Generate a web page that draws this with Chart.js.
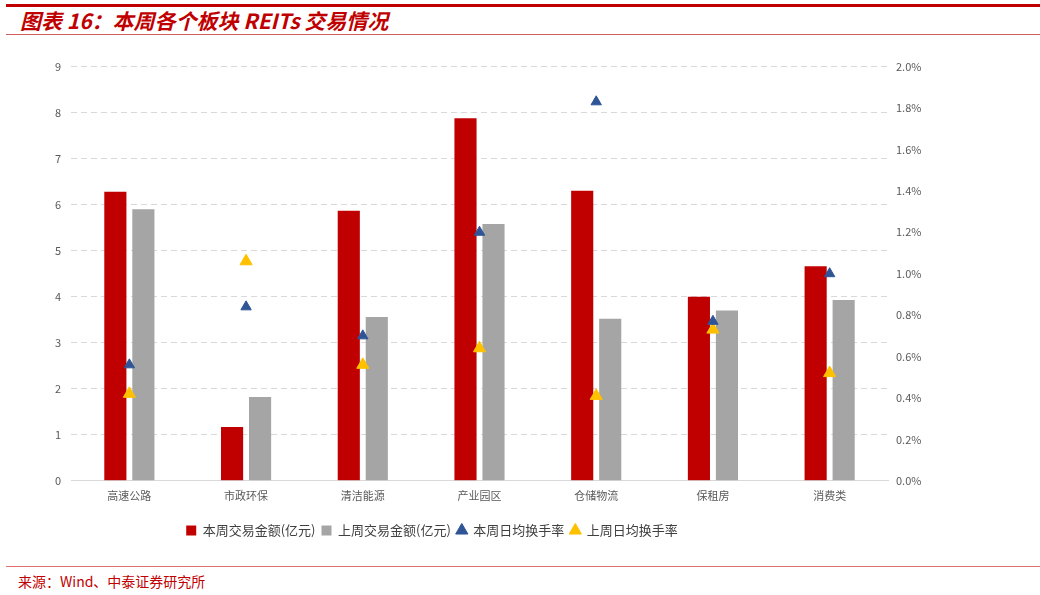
<!DOCTYPE html>
<html>
<head>
<meta charset="utf-8">
<script src="https://cdn.jsdelivr.net/npm/chart.js@4"></script>
<style>
  body { margin: 0; width: 1040px; height: 595px; background: #fff; position: relative; overflow: hidden; font-family: "Noto Sans CJK SC", sans-serif; }
  .topline { position: absolute; left: 6px; right: 0; top: 4px; height: 3px; background: #c00000; }
  .title { position: absolute; left: 20px; top: 6px; font-size: 21px; font-weight: bold; font-style: italic; color: #c00000; line-height: 28px; }
  .subline { position: absolute; left: 6px; right: 0; top: 34px; height: 1px; background: #d06060; }
  .footline { position: absolute; left: 6px; right: 0; top: 566px; height: 1px; background: #e07070; }
  .source { position: absolute; left: 18px; top: 572px; font-size: 14px; color: #c00000; line-height: 18px; }
  #wrap { position: absolute; left: 0; top: 50px; width: 1040px; height: 510px; }
</style>
</head>
<body>
<div class="topline"></div>
<div class="title">图表 16：本周各个板块 REITs 交易情况</div>
<div class="subline"></div>
<div id="wrap"><canvas id="chart"></canvas></div>
<div class="footline"></div>
<div class="source">来源：Wind、中泰证券研究所</div>
<script>
// 板块
const categories = ['高速公路', '市政环保', '清洁能源', '产业园区', '仓储物流', '保租房', '消费类'];
// 交易金额（亿元）
const thisWeekAmount = [6.28, 1.17, 5.87, 7.88, 6.30, 4.00, 4.66];
const lastWeekAmount = [5.90, 1.82, 3.56, 5.58, 3.52, 3.70, 3.93];
// 日均换手率（%）
const thisWeekTurnover = [0.56, 0.84, 0.70, 1.20, 1.83, 0.77, 1.00];
const lastWeekTurnover = [0.42, 1.06, 0.56, 0.64, 0.41, 0.73, 0.52];
// 坐标轴刻度
const leftMax = 9;
const rightMax = 2.0;

const tickColor = '#595959';
const tickFont = { family: '"Noto Sans CJK SC", sans-serif', size: 11 };

// 图例整体左移并下移，和原图位置一致
const legendShift = {
  id: 'legendShift',
  afterLayout(chart) {
    const lg = chart.legend;
    if (lg) {
      lg.left -= 88; lg.right -= 88;
      lg.top += 8; lg.bottom += 8;
    }
  }
};

new Chart(document.getElementById('chart').getContext('2d'), {
  type: 'bar',
  data: {
    labels: categories,
    datasets: [{
      label: '本周交易金额(亿元)',
      data: thisWeekAmount,
      backgroundColor: '#c00000',
      yAxisID: 'y',
      order: 1,
      pointStyle: 'rect'
    }, {
      label: '上周交易金额(亿元)',
      data: lastWeekAmount,
      backgroundColor: '#a5a5a5',
      yAxisID: 'y',
      order: 1,
      pointStyle: 'rect'
    }, {
      label: '本周日均换手率',
      type: 'line',
      data: thisWeekTurnover,
      showLine: false,
      pointStyle: 'triangle',
      pointRadius: 6,
      pointBackgroundColor: '#2f5597',
      pointBorderColor: '#2f5597',
      backgroundColor: '#2f5597',
      borderColor: '#2f5597',
      yAxisID: 'y1',
      order: 0
    }, {
      label: '上周日均换手率',
      type: 'line',
      data: lastWeekTurnover,
      showLine: false,
      pointStyle: 'triangle',
      pointRadius: 7,
      pointBackgroundColor: '#ffc000',
      pointBorderColor: '#ffc000',
      backgroundColor: '#ffc000',
      borderColor: '#ffc000',
      yAxisID: 'y1',
      order: 0
    }]
  },
  options: {
    responsive: true,
    maintainAspectRatio: false,
    animation: false,
    layout: { padding: { top: 10, right: 0, bottom: 21, left: 0 } },
    datasets: {
      bar: { categoryPercentage: 0.48, barPercentage: 0.79 }
    },
    plugins: {
      tooltip: { enabled: false },
      legend: {
        position: 'bottom',
        labels: {
          usePointStyle: true,
          boxHeight: 10,
          boxWidth: 10,
          padding: 6,
          color: '#404040',
          font: { family: '"Noto Sans CJK SC", sans-serif', size: 13 },
          sort: (a, b) => a.datasetIndex - b.datasetIndex
        }
      }
    },
    scales: {
      x: {
        grid: { display: false, drawTicks: false },
        border: { color: '#d9d9d9', width: 1 },
        ticks: { color: tickColor, font: tickFont, padding: 8 }
      },
      y: {
        position: 'left',
        min: 0,
        max: leftMax,
        afterFit: s => { s.width = 71; },
        grid: { color: '#d9d9d9', drawTicks: false },
        border: { display: false, dash: [6, 4] },
        ticks: { stepSize: 1, color: tickColor, font: tickFont, padding: 10 }
      },
      y1: {
        position: 'right',
        min: 0,
        max: rightMax,
        afterFit: s => { s.width = 152; },
        grid: { display: false, drawTicks: false },
        border: { display: false },
        ticks: {
          stepSize: 0.2,
          color: tickColor,
          font: tickFont,
          padding: 8,
          callback: v => v.toFixed(1) + '%'
        }
      }
    }
  },
  plugins: [legendShift]
});
</script>
</body>
</html>
